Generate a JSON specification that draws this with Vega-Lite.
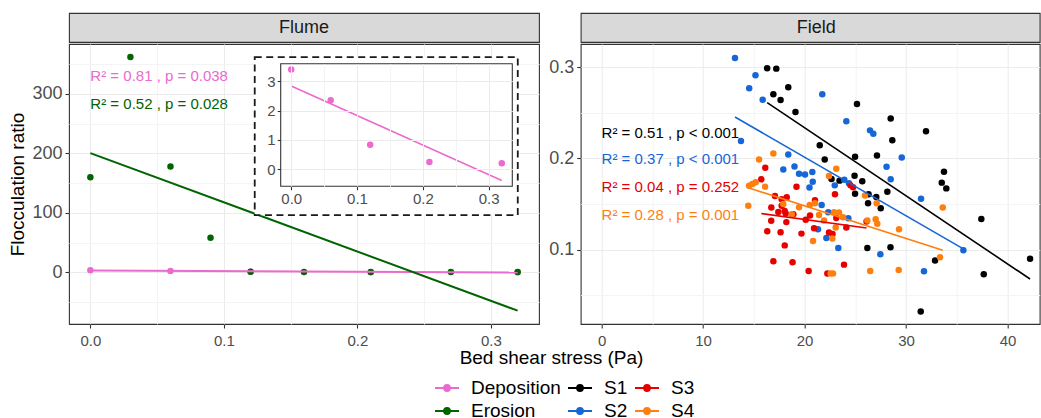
{
  "$schema": "https://vega.github.io/schema/vega-lite/v6.json",
  "padding": {"left": 8, "top": 12, "right": 0, "bottom": 0},
  "config": {
    "font": "Liberation Sans",
    "view": {"stroke": "#333333", "strokeWidth": 1.1},
    "axis": {"domain": false, "labelColor": "#4D4D4D", "labelFontSize": 15, "tickColor": "#333333", "tickSize": 4, "tickWidth": 1.1, "titleFontSize": 19, "titleFontWeight": "normal", "titleColor": "#000000", "gridColor": "#EBEBEB", "gridWidth": 1, "labelPadding": 3, "labelOverlap": false}
  },
  "datasets": {
    "flume": [
      {"tau": 0, "ratio": 3.4, "group": "Deposition"},
      {"tau": 0.06, "ratio": 2.35, "group": "Deposition"},
      {"tau": 0.12, "ratio": 0.83, "group": "Deposition"},
      {"tau": 0.21, "ratio": 0.24, "group": "Deposition"},
      {"tau": 0.32, "ratio": 0.2, "group": "Deposition"},
      {"tau": 0, "ratio": 160, "group": "Erosion"},
      {"tau": 0.03, "ratio": 362, "group": "Erosion"},
      {"tau": 0.06, "ratio": 178, "group": "Erosion"},
      {"tau": 0.09, "ratio": 58, "group": "Erosion"},
      {"tau": 0.12, "ratio": 1, "group": "Erosion"},
      {"tau": 0.16, "ratio": 0.5, "group": "Erosion"},
      {"tau": 0.21, "ratio": 0.5, "group": "Erosion"},
      {"tau": 0.27, "ratio": 0.6, "group": "Erosion"},
      {"tau": 0.32, "ratio": 0.4, "group": "Erosion"}
    ],
    "field": [
      {"tau": 16.31, "ratio": 0.299, "group": "S1"},
      {"tau": 17.21, "ratio": 0.2985, "group": "S1"},
      {"tau": 18.39, "ratio": 0.278, "group": "S1"},
      {"tau": 16.92, "ratio": 0.2705, "group": "S1"},
      {"tau": 17.63, "ratio": 0.264, "group": "S1"},
      {"tau": 19.10, "ratio": 0.251, "group": "S1"},
      {"tau": 25.16, "ratio": 0.2596, "group": "S1"},
      {"tau": 28.48, "ratio": 0.2439, "group": "S1"},
      {"tau": 31.96, "ratio": 0.2298, "group": "S1"},
      {"tau": 28.64, "ratio": 0.2199, "group": "S1"},
      {"tau": 21.49, "ratio": 0.2145, "group": "S1"},
      {"tau": 27.13, "ratio": 0.2032, "group": "S1"},
      {"tau": 24.97, "ratio": 0.2018, "group": "S1"},
      {"tau": 21.98, "ratio": 0.1989, "group": "S1"},
      {"tau": 33.73, "ratio": 0.1855, "group": "S1"},
      {"tau": 33.51, "ratio": 0.1735, "group": "S1"},
      {"tau": 33.96, "ratio": 0.1672, "group": "S1"},
      {"tau": 22.65, "ratio": 0.1774, "group": "S1"},
      {"tau": 23.44, "ratio": 0.1757, "group": "S1"},
      {"tau": 24.92, "ratio": 0.1811, "group": "S1"},
      {"tau": 25.68, "ratio": 0.1749, "group": "S1"},
      {"tau": 24.97, "ratio": 0.1612, "group": "S1"},
      {"tau": 26.30, "ratio": 0.1607, "group": "S1"},
      {"tau": 27.06, "ratio": 0.1578, "group": "S1"},
      {"tau": 28.15, "ratio": 0.1636, "group": "S1"},
      {"tau": 26.25, "ratio": 0.1509, "group": "S1"},
      {"tau": 27.50, "ratio": 0.1454, "group": "S1"},
      {"tau": 26.18, "ratio": 0.1018, "group": "S1"},
      {"tau": 28.46, "ratio": 0.1027, "group": "S1"},
      {"tau": 32.85, "ratio": 0.0881, "group": "S1"},
      {"tau": 37.41, "ratio": 0.1337, "group": "S1"},
      {"tau": 37.65, "ratio": 0.0731, "group": "S1"},
      {"tau": 42.21, "ratio": 0.0901, "group": "S1"},
      {"tau": 31.44, "ratio": 0.0322, "group": "S1"},
      {"tau": 13.14, "ratio": 0.3101, "group": "S2"},
      {"tau": 15.16, "ratio": 0.2913, "group": "S2"},
      {"tau": 14.54, "ratio": 0.2771, "group": "S2"},
      {"tau": 15.87, "ratio": 0.2643, "group": "S2"},
      {"tau": 13.73, "ratio": 0.2191, "group": "S2"},
      {"tau": 18.39, "ratio": 0.2043, "group": "S2"},
      {"tau": 17.90, "ratio": 0.188, "group": "S2"},
      {"tau": 19.00, "ratio": 0.1912, "group": "S2"},
      {"tau": 19.45, "ratio": 0.1833, "group": "S2"},
      {"tau": 20.04, "ratio": 0.1823, "group": "S2"},
      {"tau": 20.76, "ratio": 0.1852, "group": "S2"},
      {"tau": 20.80, "ratio": 0.1745, "group": "S2"},
      {"tau": 20.48, "ratio": 0.1681, "group": "S2"},
      {"tau": 21.74, "ratio": 0.2705, "group": "S2"},
      {"tau": 24.11, "ratio": 0.2407, "group": "S2"},
      {"tau": 26.44, "ratio": 0.2308, "group": "S2"},
      {"tau": 26.77, "ratio": 0.2272, "group": "S2"},
      {"tau": 29.57, "ratio": 0.2011, "group": "S2"},
      {"tau": 28.07, "ratio": 0.1909, "group": "S2"},
      {"tau": 23.91, "ratio": 0.1767, "group": "S2"},
      {"tau": 28.48, "ratio": 0.1771, "group": "S2"},
      {"tau": 22.97, "ratio": 0.1705, "group": "S2"},
      {"tau": 24.37, "ratio": 0.1727, "group": "S2"},
      {"tau": 31.47, "ratio": 0.1558, "group": "S2"},
      {"tau": 21.68, "ratio": 0.149, "group": "S2"},
      {"tau": 22.33, "ratio": 0.1411, "group": "S2"},
      {"tau": 24.31, "ratio": 0.1345, "group": "S2"},
      {"tau": 21.32, "ratio": 0.1225, "group": "S2"},
      {"tau": 22.14, "ratio": 0.1127, "group": "S2"},
      {"tau": 23.32, "ratio": 0.1018, "group": "S2"},
      {"tau": 27.46, "ratio": 0.0949, "group": "S2"},
      {"tau": 31.76, "ratio": 0.0764, "group": "S2"},
      {"tau": 35.64, "ratio": 0.0993, "group": "S2"},
      {"tau": 16.12, "ratio": 0.1898, "group": "S3"},
      {"tau": 15.73, "ratio": 0.1771, "group": "S3"},
      {"tau": 19.20, "ratio": 0.1691, "group": "S3"},
      {"tau": 24.52, "ratio": 0.1705, "group": "S3"},
      {"tau": 22.99, "ratio": 0.1607, "group": "S3"},
      {"tau": 21.02, "ratio": 0.1541, "group": "S3"},
      {"tau": 17.08, "ratio": 0.1588, "group": "S3"},
      {"tau": 18.24, "ratio": 0.1574, "group": "S3"},
      {"tau": 17.74, "ratio": 0.1552, "group": "S3"},
      {"tau": 16.72, "ratio": 0.1463, "group": "S3"},
      {"tau": 17.74, "ratio": 0.1482, "group": "S3"},
      {"tau": 18.04, "ratio": 0.1425, "group": "S3"},
      {"tau": 17.41, "ratio": 0.1413, "group": "S3"},
      {"tau": 18.14, "ratio": 0.1396, "group": "S3"},
      {"tau": 18.89, "ratio": 0.1389, "group": "S3"},
      {"tau": 16.71, "ratio": 0.1316, "group": "S3"},
      {"tau": 18.20, "ratio": 0.1302, "group": "S3"},
      {"tau": 20.11, "ratio": 0.1327, "group": "S3"},
      {"tau": 20.53, "ratio": 0.1375, "group": "S3"},
      {"tau": 23.12, "ratio": 0.1348, "group": "S3"},
      {"tau": 24.11, "ratio": 0.1244, "group": "S3"},
      {"tau": 16.32, "ratio": 0.1203, "group": "S3"},
      {"tau": 17.63, "ratio": 0.1192, "group": "S3"},
      {"tau": 19.69, "ratio": 0.1176, "group": "S3"},
      {"tau": 20.93, "ratio": 0.1236, "group": "S3"},
      {"tau": 22.40, "ratio": 0.1187, "group": "S3"},
      {"tau": 22.75, "ratio": 0.1171, "group": "S3"},
      {"tau": 18.04, "ratio": 0.1047, "group": "S3"},
      {"tau": 16.92, "ratio": 0.0873, "group": "S3"},
      {"tau": 18.81, "ratio": 0.0863, "group": "S3"},
      {"tau": 20.40, "ratio": 0.0767, "group": "S3"},
      {"tau": 23.88, "ratio": 0.0836, "group": "S3"},
      {"tau": 22.24, "ratio": 0.0738, "group": "S3"},
      {"tau": 26.10, "ratio": 0.1309, "group": "S3"},
      {"tau": 24.77, "ratio": 0.1684, "group": "S3"},
      {"tau": 16.92, "ratio": 0.2054, "group": "S4"},
      {"tau": 15.51, "ratio": 0.1989, "group": "S4"},
      {"tau": 14.53, "ratio": 0.1702, "group": "S4"},
      {"tau": 14.85, "ratio": 0.1719, "group": "S4"},
      {"tau": 15.18, "ratio": 0.1738, "group": "S4"},
      {"tau": 16.10, "ratio": 0.1691, "group": "S4"},
      {"tau": 14.45, "ratio": 0.1482, "group": "S4"},
      {"tau": 23.12, "ratio": 0.1888, "group": "S4"},
      {"tau": 22.40, "ratio": 0.1807, "group": "S4"},
      {"tau": 25.95, "ratio": 0.1593, "group": "S4"},
      {"tau": 27.10, "ratio": 0.1509, "group": "S4"},
      {"tau": 17.90, "ratio": 0.1501, "group": "S4"},
      {"tau": 19.45, "ratio": 0.1465, "group": "S4"},
      {"tau": 20.50, "ratio": 0.149, "group": "S4"},
      {"tau": 21.02, "ratio": 0.1509, "group": "S4"},
      {"tau": 18.73, "ratio": 0.1389, "group": "S4"},
      {"tau": 21.42, "ratio": 0.1381, "group": "S4"},
      {"tau": 21.91, "ratio": 0.132, "group": "S4"},
      {"tau": 22.90, "ratio": 0.1411, "group": "S4"},
      {"tau": 23.39, "ratio": 0.1407, "group": "S4"},
      {"tau": 23.78, "ratio": 0.1356, "group": "S4"},
      {"tau": 23.06, "ratio": 0.1244, "group": "S4"},
      {"tau": 22.73, "ratio": 0.1122, "group": "S4"},
      {"tau": 20.83, "ratio": 0.1096, "group": "S4"},
      {"tau": 26.18, "ratio": 0.132, "group": "S4"},
      {"tau": 27.00, "ratio": 0.1334, "group": "S4"},
      {"tau": 27.16, "ratio": 0.1283, "group": "S4"},
      {"tau": 29.30, "ratio": 0.1225, "group": "S4"},
      {"tau": 33.61, "ratio": 0.1462, "group": "S4"},
      {"tau": 33.34, "ratio": 0.0916, "group": "S4"},
      {"tau": 26.46, "ratio": 0.0767, "group": "S4"},
      {"tau": 29.27, "ratio": 0.0778, "group": "S4"},
      {"tau": 22.57, "ratio": 0.074, "group": "S4"},
      {"tau": 22.80, "ratio": 0.074, "group": "S4"}
    ]
  },
  "spacing": 0,
  "vconcat": [
    {
      "spacing": 41.7,
      "bounds": "flush",
      "hconcat": [
        {
          "width": 470, "height": 29,
          "view": {"fill": "#D9D9D9", "stroke": "#333333", "strokeWidth": 1.1},
          "data": {"values": [{"panel": "Flume"}]},
          "mark": {"type": "text", "fontSize": 18, "color": "#1A1A1A", "baseline": "middle", "align": "center"},
          "encoding": {"text": {"field": "panel"}}
        },
        {
          "width": 459, "height": 29,
          "view": {"fill": "#D9D9D9", "stroke": "#333333", "strokeWidth": 1.1},
          "data": {"values": [{"panel": "Field"}]},
          "mark": {"type": "text", "fontSize": 18, "color": "#1A1A1A", "baseline": "middle", "align": "center", "dx": 6},
          "encoding": {"text": {"field": "panel"}}
        }
      ]
    },
    {
      "spacing": 41.7,
      "bounds": "flush",
      "hconcat": [
        {
          "width": 470, "height": 280,
          "view": {"fill": "white", "stroke": "#333333", "strokeWidth": 1.1},
          "resolve": {"scale": {"x": "independent", "y": "independent"}},
          "layer": [
            {
              "data": {"name": "flume"},
              "encoding": {
                "x": {"field": "tau", "type": "quantitative",
                  "scale": {"domain": [-0.016, 0.336], "nice": false, "zero": false},
                  "axis": {"orient": "bottom", "title": "Bed shear stress (Pa)", "titleX": 482, "titlePadding": 0,
                    "values": [0, 0.05, 0.1, 0.15, 0.2, 0.25, 0.3], "format": ".1f", "labelPadding": 5,
                    "labelExpr": "round(datum.value*100) % 10 != 0 ? '' : datum.label",
                    "gridColor": {"condition": {"test": "round(datum.value*100) % 10 != 0", "value": "#F4F4F4"}, "value": "#EBEBEB"},
                    "tickColor": {"condition": {"test": "round(datum.value*100) % 10 != 0", "value": "transparent"}, "value": "#333333"}}},
                "y": {"field": "ratio", "type": "quantitative",
                  "scale": {"domain": [-87, 384], "nice": false, "zero": false},
                  "axis": {"orient": "left", "title": "Flocculation ratio", "titlePadding": 4, "labelFontSize": 18,
                    "values": [-50, 0, 50, 100, 150, 200, 250, 300, 350], "format": "d",
                    "labelExpr": "datum.value % 100 != 0 ? '' : datum.label",
                    "gridColor": {"condition": {"test": "datum.value % 100 != 0", "value": "#F4F4F4"}, "value": "#EBEBEB"},
                    "tickColor": {"condition": {"test": "datum.value % 100 != 0", "value": "transparent"}, "value": "#333333"}}}
              },
              "layer": [
                {
                  "mark": {"type": "point", "filled": true, "size": 42, "opacity": 1},
                  "encoding": {
                    "color": {"field": "group", "type": "nominal",
                      "scale": {"domain": ["Deposition", "Erosion", "S1", "S2", "S3", "S4"], "range": ["#EB6ACD", "#006400", "#000000", "#1766D6", "#E60000", "#FF7F0E"]},
                      "legend": {"orient": "none", "legendX": 365, "legendY": 362, "columns": 3, "title": null, "labelFontSize": 19, "labelColor": "#000000",
                        "symbolType": "M-1,0L1,0M0.25,0A0.25,0.25,0,1,1,-0.25,0A0.25,0.25,0,1,1,0.25,0",
                        "symbolSize": 576, "symbolStrokeWidth": 1.8, "columnPadding": 3, "rowPadding": 0, "labelOffset": 11,
                        "encode": {"symbols": {"update": {"fill": {"scale": "color", "field": "value"}, "stroke": {"scale": "color", "field": "value"}}}}}
                    }
                  }
                },
                {
                  "transform": [{"regression": "ratio", "on": "tau", "groupby": ["group"], "method": "linear"}],
                  "mark": {"type": "line", "strokeWidth": 2},
                  "encoding": {"color": {"field": "group", "type": "nominal"}}
                }
              ]
            },
            {
              "layer": [
                {
                  "data": {"values": [{"note": "inset"}]},
                  "mark": {"type": "rect", "fill": "white", "stroke": "#1A1A1A", "strokeWidth": 1.8, "strokeDash": [7, 4.5]},
                  "encoding": {
                    "x": {"datum": 0.1231, "type": "quantitative", "scale": {"domain": [-0.016, 0.336], "nice": false, "zero": false}, "axis": null}, "x2": {"datum": 0.3201},
                    "y": {"datum": 96, "type": "quantitative", "scale": {"domain": [-87, 384], "nice": false, "zero": false}, "axis": null}, "y2": {"datum": 362}
                  }
                },
                {
                  "data": {"values": [{"note": "dep"}]},
                  "mark": {"type": "text", "align": "left", "baseline": "middle", "fontSize": 15, "color": "#EB6ACD"},
                  "encoding": {
                    "x": {"datum": 0, "type": "quantitative", "scale": {"domain": [-0.016, 0.336], "nice": false, "zero": false}, "axis": null},
                    "y": {"datum": 330, "type": "quantitative", "scale": {"domain": [-87, 384], "nice": false, "zero": false}, "axis": null},
                    "text": {"value": "R² = 0.81 , p = 0.038"}}
                },
                {
                  "data": {"values": [{"note": "ero"}]},
                  "mark": {"type": "text", "align": "left", "baseline": "middle", "fontSize": 15, "color": "#006400"},
                  "encoding": {
                    "x": {"datum": 0, "type": "quantitative", "scale": {"domain": [-0.016, 0.336], "nice": false, "zero": false}, "axis": null},
                    "y": {"datum": 283, "type": "quantitative", "scale": {"domain": [-87, 384], "nice": false, "zero": false}, "axis": null},
                    "text": {"value": "R² = 0.52 , p = 0.028"}}
                }
              ]
            },
            {
              "data": {"values": [{"note": "insetpanel"}]},
              "mark": {"type": "rect", "fill": "transparent", "stroke": "#333333", "strokeWidth": 1.1},
              "encoding": {
                "x": {"datum": -0.016, "type": "quantitative", "scale": {"domain": [-0.016, 0.336], "range": [211.7, 443.3], "nice": false, "zero": false}, "axis": null}, "x2": {"datum": 0.336},
                "y": {"datum": -0.59, "type": "quantitative", "scale": {"domain": [-0.59, 3.6], "range": [142.3, 19.7], "nice": false, "zero": false}, "axis": null}, "y2": {"datum": 3.6}
              }
            },
            {
              "data": {"name": "flume"},
              "transform": [{"filter": "datum.group == 'Deposition'"}],
              "encoding": {
                "x": {"field": "tau", "type": "quantitative",
                  "scale": {"domain": [-0.016, 0.336], "range": [211.7, 443.3], "nice": false, "zero": false},
                  "axis": {"orient": "top", "offset": -142.3, "title": null, "zindex": 1, "tickSize": -3.5, "grid": true,
                    "values": [0, 0.05, 0.1, 0.15, 0.2, 0.25, 0.3], "format": ".1f", "labelPadding": -2, "labelBaseline": "top",
                    "labelExpr": "round(datum.value*100) % 10 != 0 ? '' : datum.label",
                    "gridColor": {"condition": {"test": "round(datum.value*100) % 10 != 0", "value": "#F4F4F4"}, "value": "#EBEBEB"},
                    "tickColor": {"condition": {"test": "round(datum.value*100) % 10 != 0", "value": "transparent"}, "value": "#333333"}}},
                "y": {"field": "ratio", "type": "quantitative",
                  "scale": {"domain": [-0.59, 3.6], "range": [142.3, 19.7], "nice": false, "zero": false},
                  "axis": {"orient": "left", "offset": -211.7, "title": null, "zindex": 1, "tickSize": 3.5, "grid": true,
                    "values": [0, 1, 2, 3], "labelPadding": 2}},
                "color": {"field": "group", "type": "nominal"}
              },
              "layer": [
                {
                  "transform": [{"regression": "ratio", "on": "tau", "groupby": ["group"], "method": "linear"}],
                  "mark": {"type": "line", "strokeWidth": 1.6}
                },
                {
                  "mark": {"type": "point", "filled": true, "size": 42, "opacity": 1}
                }
              ]
            }
          ]
        },
        {
          "width": 459, "height": 280,
          "view": {"fill": "white", "stroke": "#333333", "strokeWidth": 1.1},
          "resolve": {"scale": {"x": "independent", "y": "independent"}},
          "layer": [
            {
              "data": {"name": "field"},
              "encoding": {
                "x": {"field": "tau", "type": "quantitative",
                  "scale": {"domain": [-2.06, 43.16], "nice": false, "zero": false},
                  "axis": {"title": null, "values": [0, 5, 10, 15, 20, 25, 30, 35, 40], "format": "d", "labelPadding": 5,
                    "labelExpr": "datum.value % 10 != 0 ? '' : datum.label",
                    "gridColor": {"condition": {"test": "datum.value % 10 != 0", "value": "#F4F4F4"}, "value": "#EBEBEB"},
                    "tickColor": {"condition": {"test": "datum.value % 10 != 0", "value": "transparent"}, "value": "#333333"}}},
                "y": {"field": "ratio", "type": "quantitative",
                  "scale": {"domain": [0.0185, 0.3255], "nice": false, "zero": false},
                  "axis": {"title": null, "labelFontSize": 18, "values": [0.05, 0.1, 0.15, 0.2, 0.25, 0.3], "format": ".1f",
                    "labelExpr": "round(datum.value*100) % 10 != 0 ? '' : datum.label",
                    "gridColor": {"condition": {"test": "round(datum.value*100) % 10 != 0", "value": "#F4F4F4"}, "value": "#EBEBEB"},
                    "tickColor": {"condition": {"test": "round(datum.value*100) % 10 != 0", "value": "transparent"}, "value": "#333333"}}},
                "color": {"field": "group", "type": "nominal"}
              },
              "layer": [
                {"mark": {"type": "point", "filled": true, "size": 42, "opacity": 1}},
                {
                  "transform": [{"regression": "ratio", "on": "tau", "groupby": ["group"], "method": "linear"}],
                  "mark": {"type": "line", "strokeWidth": 1.6}
                }
              ]
            },
            {
              "layer": [
                {
                  "data": {"values": [{"note": "s1"}]},
                  "mark": {"type": "text", "align": "left", "baseline": "middle", "fontSize": 15, "color": "#000000"},
                  "encoding": {
                    "x": {"datum": 0, "type": "quantitative", "scale": {"domain": [-2.06, 43.16], "nice": false, "zero": false}, "axis": null},
                    "y": {"datum": 0.228, "type": "quantitative", "scale": {"domain": [0.0185, 0.3255], "nice": false, "zero": false}, "axis": null},
                    "text": {"value": "R² = 0.51 , p < 0.001"}}
                },
                {
                  "data": {"values": [{"note": "s2"}]},
                  "mark": {"type": "text", "align": "left", "baseline": "middle", "fontSize": 15, "color": "#1766D6"},
                  "encoding": {
                    "x": {"datum": 0, "type": "quantitative", "scale": {"domain": [-2.06, 43.16], "nice": false, "zero": false}, "axis": null},
                    "y": {"datum": 0.199, "type": "quantitative", "scale": {"domain": [0.0185, 0.3255], "nice": false, "zero": false}, "axis": null},
                    "text": {"value": "R² = 0.37 , p < 0.001"}}
                },
                {
                  "data": {"values": [{"note": "s3"}]},
                  "mark": {"type": "text", "align": "left", "baseline": "middle", "fontSize": 15, "color": "#E60000"},
                  "encoding": {
                    "x": {"datum": 0, "type": "quantitative", "scale": {"domain": [-2.06, 43.16], "nice": false, "zero": false}, "axis": null},
                    "y": {"datum": 0.169, "type": "quantitative", "scale": {"domain": [0.0185, 0.3255], "nice": false, "zero": false}, "axis": null},
                    "text": {"value": "R² = 0.04 , p = 0.252"}}
                },
                {
                  "data": {"values": [{"note": "s4"}]},
                  "mark": {"type": "text", "align": "left", "baseline": "middle", "fontSize": 15, "color": "#FF7F0E"},
                  "encoding": {
                    "x": {"datum": 0, "type": "quantitative", "scale": {"domain": [-2.06, 43.16], "nice": false, "zero": false}, "axis": null},
                    "y": {"datum": 0.138, "type": "quantitative", "scale": {"domain": [0.0185, 0.3255], "nice": false, "zero": false}, "axis": null},
                    "text": {"value": "R² = 0.28 , p = 0.001"}}
                }
              ]
            }
          ]
        }
      ]
    }
  ]
}
